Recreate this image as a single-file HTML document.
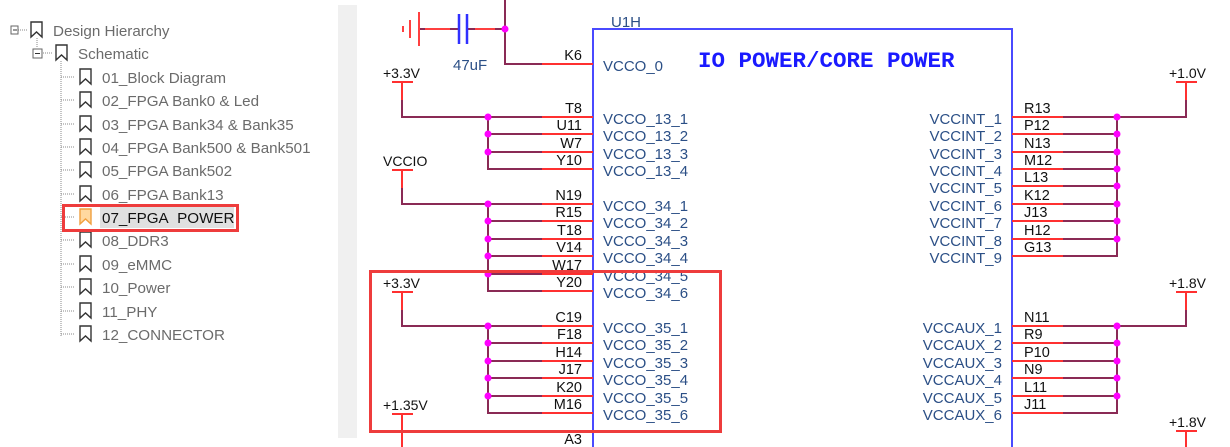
<!DOCTYPE html>
<html><head><meta charset="utf-8"><style>
html,body{margin:0;padding:0;background:#fff;width:1230px;height:447px;overflow:hidden}
svg{display:block}
.t{font-family:"Liberation Sans",sans-serif;font-size:15.2px;fill:#6b6b6b}
.p{font-family:"Liberation Sans",sans-serif;font-size:14.5px;fill:#111}
.n{font-family:"Liberation Sans",sans-serif;font-size:15px;fill:#2b4f86}
</style></head><body>
<svg width="1230" height="447" viewBox="0 0 1230 447" xmlns="http://www.w3.org/2000/svg">
<rect x="338" y="5" width="19" height="433" fill="#f0f0f0"/>
<!-- tree -->
<g stroke="#888" stroke-width="1" stroke-dasharray="1,1" fill="none">
<path d="M18 30h10 M37 38v10 M43 53h10 M61 61v275 M61 77h14 M61 100h14 M61 124h14 M61 147h14 M61 170h14 M61 194h14 M61 217h14 M61 240h14 M61 264h14 M61 287h14 M61 311h14 M61 334h14"/>
</g>
<g stroke="#666" fill="#fff" stroke-width="1"><rect x="11" y="26" width="7" height="8"/><rect x="33" y="49" width="9" height="9"/></g>
<path d="M13 30h4 M35 53.5h5" stroke="#333"/>
<g stroke="#333" stroke-width="1.4" fill="none">
<path d="M31 22h11v15l-5.5-5-5.5 5z"/><path d="M56 45h11v15l-5.5-5-5.5 5z"/>
<path d="M80 69h11v15l-5.5-5-5.5 5z"/><path d="M80 92h11v15l-5.5-5-5.5 5z"/><path d="M80 116h11v15l-5.5-5-5.5 5z"/><path d="M80 139h11v15l-5.5-5-5.5 5z"/><path d="M80 162h11v15l-5.5-5-5.5 5z"/><path d="M80 186h11v15l-5.5-5-5.5 5z"/>
<path d="M80 232h11v15l-5.5-5-5.5 5z"/><path d="M80 256h11v15l-5.5-5-5.5 5z"/><path d="M80 279h11v15l-5.5-5-5.5 5z"/><path d="M80 303h11v15l-5.5-5-5.5 5z"/><path d="M80 326h11v15l-5.5-5-5.5 5z"/>
</g>
<rect x="100" y="207" width="134" height="21" fill="#e0e0e0"/>
<path d="M80 209h11v15l-5.5-5-5.5 5z" fill="#ffd9a0" stroke="#f0a040" stroke-width="1.4"/>
<g class="t">
<text x="53" y="36">Design Hierarchy</text><text x="78" y="59">Schematic</text>
<text x="102" y="83">01_Block Diagram</text><text x="102" y="106">02_FPGA Bank0 &amp; Led</text><text x="102" y="130">03_FPGA Bank34 &amp; Bank35</text><text x="102" y="153">04_FPGA Bank500 &amp; Bank501</text><text x="102" y="176">05_FPGA Bank502</text><text x="102" y="200">06_FPGA Bank13</text>
<text x="102" y="223" style="fill:#111">07_FPGA&#160; POWER</text>
<text x="102" y="246">08_DDR3</text><text x="102" y="270">09_eMMC</text><text x="102" y="293">10_Power</text><text x="102" y="317">11_PHY</text><text x="102" y="340">12_CONNECTOR</text>
</g>
<rect x="63.5" y="205.5" width="174" height="25" fill="none" stroke="#ee3c3c" stroke-width="3"/>
<!-- schematic -->
<path d="M593 447V29H1012V447" fill="none" stroke="#4a4aff" stroke-width="2"/>
<text x="611" y="27" class="n" style="fill:#2b4f86">U1H</text>
<text x="698" y="67" style="font-family:'Liberation Mono',monospace;font-weight:bold;font-size:22.5px;fill:#1a1aff">IO POWER/CORE POWER</text>
<!-- ground + cap -->
<g stroke="#ff4040" stroke-width="2"><path d="M403 26v6 M410 20v18 M419 12v34"/></g>
<path d="M420 29h38 M468 29h37" stroke="#8a2a55" stroke-width="2"/>
<path d="M425 29h25 M475 29h20" stroke="#ff4040" stroke-width="2"/>
<path d="M459 14v30 M467 14v30" stroke="#3030ff" stroke-width="2.5"/>
<path d="M505 0v64h37" fill="none" stroke="#8a2a55" stroke-width="2"/>
<path d="M542 64h51" stroke="#ff3030" stroke-width="2"/>
<circle cx="505" cy="29" r="3.5" fill="#ff00ff"/>
<text x="453" y="70" class="n">47uF</text>
<text x="582" y="60" class="p" text-anchor="end">K6</text><text x="603" y="71" class="n">VCCO_0</text>
<!-- left power -->
<g class="p" style="font-size:14px"><text x="383" y="78">+3.3V</text><text x="383" y="166">VCCIO</text><text x="383" y="288">+3.3V</text><text x="383" y="410">+1.35V</text></g>
<g stroke="#ff3030" stroke-width="2"><path d="M392 82h21 M402 82v18 M392 170h21 M402 170v18 M392 292h21 M402 292v18 M392 414h21 M402 414v33"/></g>
<g stroke="#8a2a55" stroke-width="2" fill="none">
<path d="M402 100v17h140 M488 117v52h54 M488 134h54 M488 152h54"/>
<path d="M402 188v16h140 M488 204v87h54 M488 221h54 M488 239h54 M488 256h54 M488 274h54"/>
<path d="M402 310v16h140 M488 326v87h54 M488 343h54 M488 361h54 M488 378h54 M488 396h54"/>
</g>
<g stroke="#ff3030" stroke-width="2"><path d="M542 117h51M542 134h51M542 152h51M542 169h51M542 204h51M542 221h51M542 239h51M542 256h51M542 274h51M542 291h51M542 326h51M542 343h51M542 361h51M542 378h51M542 396h51M542 413h51"/></g>
<g fill="#ff00ff"><circle cx="488" cy="117" r="3.5"/><circle cx="488" cy="134" r="3.5"/><circle cx="488" cy="152" r="3.5"/><circle cx="488" cy="204" r="3.5"/><circle cx="488" cy="221" r="3.5"/><circle cx="488" cy="239" r="3.5"/><circle cx="488" cy="256" r="3.5"/><circle cx="488" cy="274" r="3.5"/><circle cx="488" cy="326" r="3.5"/><circle cx="488" cy="343" r="3.5"/><circle cx="488" cy="361" r="3.5"/><circle cx="488" cy="378" r="3.5"/><circle cx="488" cy="396" r="3.5"/></g>
<g class="p" text-anchor="end">
<text x="582" y="113">T8</text><text x="582" y="130">U11</text><text x="582" y="148">W7</text><text x="582" y="165">Y10</text>
<text x="582" y="200">N19</text><text x="582" y="217">R15</text><text x="582" y="235">T18</text><text x="582" y="252">V14</text><text x="582" y="270">W17</text><text x="582" y="287">Y20</text>
<text x="582" y="322">C19</text><text x="582" y="339">F18</text><text x="582" y="357">H14</text><text x="582" y="374">J17</text><text x="582" y="392">K20</text><text x="582" y="409">M16</text>
<text x="582" y="444">A3</text>
</g>
<g class="n">
<text x="603" y="124">VCCO_13_1</text><text x="603" y="141">VCCO_13_2</text><text x="603" y="159">VCCO_13_3</text><text x="603" y="176">VCCO_13_4</text>
<text x="603" y="211">VCCO_34_1</text><text x="603" y="228">VCCO_34_2</text><text x="603" y="246">VCCO_34_3</text><text x="603" y="263">VCCO_34_4</text><text x="603" y="281">VCCO_34_5</text><text x="603" y="298">VCCO_34_6</text>
<text x="603" y="333">VCCO_35_1</text><text x="603" y="350">VCCO_35_2</text><text x="603" y="368">VCCO_35_3</text><text x="603" y="385">VCCO_35_4</text><text x="603" y="403">VCCO_35_5</text><text x="603" y="420">VCCO_35_6</text>
</g>
<!-- right -->
<g class="p" style="font-size:14px"><text x="1169" y="78">+1.0V</text><text x="1169" y="288">+1.8V</text><text x="1169" y="427">+1.8V</text></g>
<g stroke="#ff3030" stroke-width="2"><path d="M1176 82h21 M1186 82v18 M1176 292h21 M1186 292v18 M1176 431h21 M1186 431v16"/></g>
<g stroke="#8a2a55" stroke-width="2" fill="none">
<path d="M1186 100v17h-123 M1117 117v139h-54 M1117 134h-54 M1117 152h-54 M1117 169h-54 M1117 186h-54 M1117 204h-54 M1117 221h-54 M1117 239h-54"/>
<path d="M1186 310v16h-123 M1117 326v87h-54 M1117 343h-54 M1117 361h-54 M1117 378h-54 M1117 396h-54"/>
</g>
<g stroke="#ff3030" stroke-width="2"><path d="M1012 117h51M1012 134h51M1012 152h51M1012 169h51M1012 186h51M1012 204h51M1012 221h51M1012 239h51M1012 256h51M1012 326h51M1012 343h51M1012 361h51M1012 378h51M1012 396h51M1012 413h51"/></g>
<g fill="#ff00ff"><circle cx="1117" cy="117" r="3.5"/><circle cx="1117" cy="134" r="3.5"/><circle cx="1117" cy="152" r="3.5"/><circle cx="1117" cy="169" r="3.5"/><circle cx="1117" cy="186" r="3.5"/><circle cx="1117" cy="204" r="3.5"/><circle cx="1117" cy="221" r="3.5"/><circle cx="1117" cy="239" r="3.5"/><circle cx="1117" cy="326" r="3.5"/><circle cx="1117" cy="343" r="3.5"/><circle cx="1117" cy="361" r="3.5"/><circle cx="1117" cy="378" r="3.5"/><circle cx="1117" cy="396" r="3.5"/></g>
<g class="p">
<text x="1024" y="113">R13</text><text x="1024" y="130">P12</text><text x="1024" y="148">N13</text><text x="1024" y="165">M12</text><text x="1024" y="182">L13</text><text x="1024" y="200">K12</text><text x="1024" y="217">J13</text><text x="1024" y="235">H12</text><text x="1024" y="252">G13</text>
<text x="1024" y="322">N11</text><text x="1024" y="339">R9</text><text x="1024" y="357">P10</text><text x="1024" y="374">N9</text><text x="1024" y="392">L11</text><text x="1024" y="409">J11</text>
</g>
<g class="n" text-anchor="end">
<text x="1002" y="124">VCCINT_1</text><text x="1002" y="141">VCCINT_2</text><text x="1002" y="159">VCCINT_3</text><text x="1002" y="176">VCCINT_4</text><text x="1002" y="193">VCCINT_5</text><text x="1002" y="211">VCCINT_6</text><text x="1002" y="228">VCCINT_7</text><text x="1002" y="246">VCCINT_8</text><text x="1002" y="263">VCCINT_9</text>
<text x="1002" y="333">VCCAUX_1</text><text x="1002" y="350">VCCAUX_2</text><text x="1002" y="368">VCCAUX_3</text><text x="1002" y="385">VCCAUX_4</text><text x="1002" y="403">VCCAUX_5</text><text x="1002" y="420">VCCAUX_6</text>
</g>
<rect x="370.5" y="271.5" width="350" height="160" fill="none" stroke="#ee3c3c" stroke-width="3"/>
</svg>
</body></html>
